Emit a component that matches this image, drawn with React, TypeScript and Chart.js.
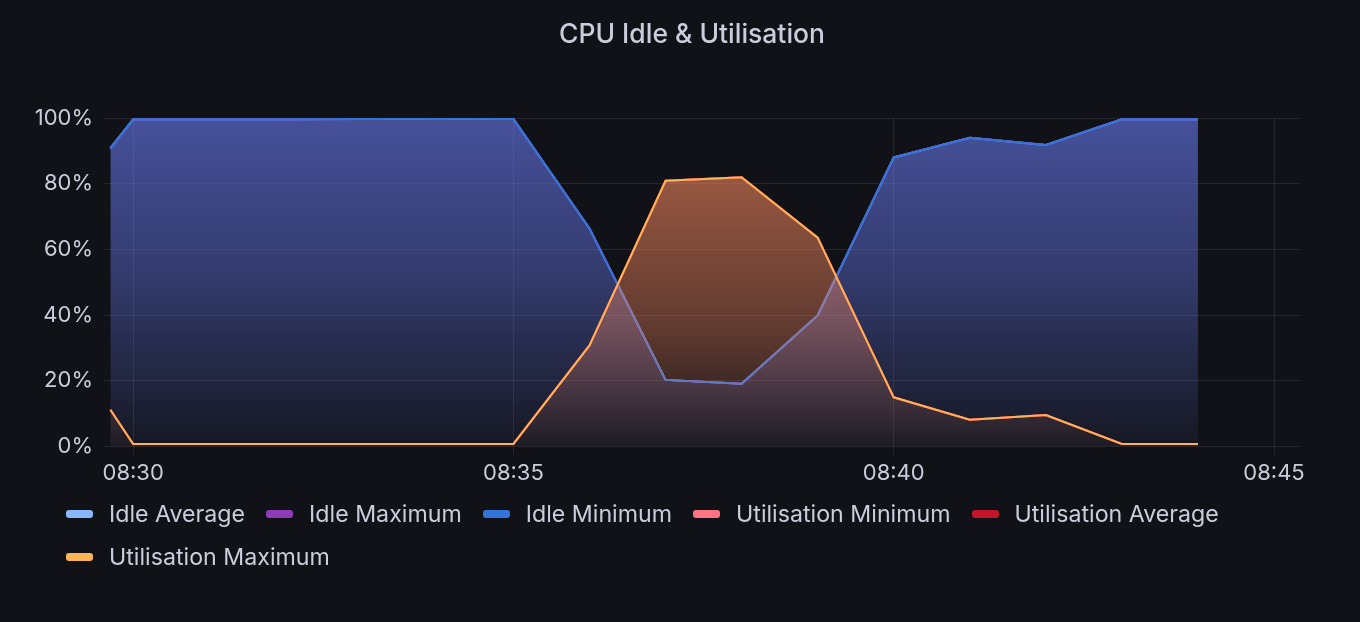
import React, { useEffect, useRef } from "react";
import { Chart, registerables } from "chart.js";

Chart.register(...registerables);

const chartTitle = "CPU Idle & Utilisation";

const times = [
  "08:29:42", "08:30:00", "08:31:00", "08:32:00", "08:33:00", "08:34:00",
  "08:35:00", "08:36:00", "08:37:00", "08:38:00", "08:39:00", "08:40:00",
  "08:41:00", "08:42:00", "08:43:00", "08:44:00",
];

const idleMinimum = [90.8, 99.6, 99.6, 99.6, 99.7, 99.9, 99.7, 66.4, 20.3, 19.1, 39.9, 88.0, 94.0, 91.8, 99.6, 99.6];
const idleAverage = [90.8, 99.6, 99.6, 99.6, 99.7, 99.9, 99.7, 66.4, 20.3, 19.1, 39.9, 88.0, 94.0, 91.8, 99.6, 99.6];
const idleMaximum = [90.8, 99.6, 99.6, 99.6, 99.7, 99.9, 99.7, 66.4, 20.3, 19.1, 39.9, 88.0, 94.0, 91.8, 99.6, 99.6];
const utilMaximum = [11.2, 0.8, 0.8, 0.8, 0.8, 0.8, 0.8, 30.8, 80.9, 82.0, 63.6, 15.0, 8.2, 9.6, 0.8, 0.8];
const utilAverage = [11.2, 0.8, 0.8, 0.8, 0.8, 0.8, 0.8, 30.8, 80.9, 82.0, 63.6, 15.0, 8.2, 9.6, 0.8, 0.8];
const utilMinimum = [11.2, 0.8, 0.8, 0.8, 0.8, 0.8, 0.8, 30.8, 80.9, 82.0, 63.6, 15.0, 8.2, 9.6, 0.8, 0.8];

const xTickLabels = ["08:30", "08:35", "08:40", "08:45"];
const yTickValues = [0, 20, 40, 60, 80, 100];
const xRangeStart = "08:29:37";
const xRangeEnd = "08:45:20.5";

const seriesNames = [
  "Idle Average",
  "Idle Maximum",
  "Idle Minimum",
  "Utilisation Minimum",
  "Utilisation Average",
  "Utilisation Maximum",
];
const seriesColors = ["#8AB8FF", "#8F3BB8", "#3274D9", "#FF7383", "#C4162A", "#FFB357"];

const toMinutes = (t: string) => {
  const [h, m, s] = t.split(":").map(Number);
  return h * 60 + m + (s || 0) / 60 - 480;
};

const BG = "#111217";
const TEXT = "#ccccdc";
const GRID = "rgba(204,204,220,0.11)";
const FONT = "Inter, 'Noto Sans', sans-serif";

function gradient(chart: any, rgb: string, stops: [number, number][]) {
  const { ctx, chartArea } = chart;
  if (!chartArea) return "transparent";
  const g = ctx.createLinearGradient(0, chartArea.top, 0, chartArea.bottom);
  stops.forEach(([p, a]) => g.addColorStop(p, `rgba(${rgb},${a})`));
  return g;
}

const panelTitle = {
  id: "panelTitle",
  afterDraw(chart: any) {
    const { ctx } = chart;
    ctx.save();
    ctx.font = `500 26.5px ${FONT}`;
    ctx.fillStyle = TEXT;
    ctx.textAlign = "center";
    ctx.textBaseline = "middle";
    ctx.fillText(chartTitle, 692, 35);
    ctx.restore();
  },
};

export default function App() {
  const canvasRef = useRef<HTMLCanvasElement | null>(null);

  useEffect(() => {
    document.body.style.margin = "0";
    document.body.style.background = BG;
    const xs = times.map(toMinutes);
    const series = [idleAverage, idleMaximum, idleMinimum, utilMinimum, utilAverage, utilMaximum];
    const datasets = series.map((vals, i) => {
      let fill: any = false;
      let bg: any = "transparent";
      if (i === 2) {
        fill = "origin";
        bg = (c: any) => gradient(c.chart, "109,128,251", [[0, 0.58], [0.5, 0.37], [1, 0.05]]);
      }
      if (i === 5) {
        fill = "origin";
        bg = (c: any) => gradient(c.chart, "255,140,98", [[0, 0.66], [0.22, 0.55], [0.65, 0.33], [1, 0.03]]);
      }
      return {
        label: seriesNames[i],
        data: vals.map((v, j) => ({ x: xs[j], y: v })),
        borderColor: seriesColors[i],
        backgroundColor: bg,
        borderWidth: 2,
        pointRadius: 0,
        tension: 0,
        fill,
        order: 6 - i,
      };
    });

    const chart = new Chart(canvasRef.current as HTMLCanvasElement, {
      type: "line",
      data: { datasets },
      plugins: [panelTitle],
      options: {
        animation: false,
        responsive: false,
        maintainAspectRatio: false,
        layout: { padding: { left: 24, right: 60, top: 118, bottom: 129 } },
        plugins: {
          legend: { display: false },
          tooltip: { enabled: false },
          title: { display: false },
        },
        scales: {
          x: {
            type: "linear",
            min: toMinutes(xRangeStart),
            max: toMinutes(xRangeEnd),
            border: { display: false },
            grid: { color: GRID, lineWidth: 1, drawTicks: true, tickLength: 8, tickColor: GRID },
            afterBuildTicks: (scale: any) => {
              scale.ticks = xTickLabels.map((l) => ({ value: toMinutes(l) }));
            },
            ticks: {
              color: TEXT,
              font: { family: FONT, size: 22 },
              padding: 6,
              maxRotation: 0,
              autoSkip: false,
              callback: (_v: any, i: number) => xTickLabels[i],
            },
          },
          y: {
            min: 0,
            max: 100,
            border: { display: false },
            grid: { color: GRID, lineWidth: 1, drawTicks: false },
            afterBuildTicks: (scale: any) => {
              scale.ticks = yTickValues.map((v) => ({ value: v }));
            },
            afterFit: (scale: any) => {
              scale.width = 80;
            },
            ticks: {
              color: TEXT,
              font: { family: FONT, size: 22 },
              padding: 11,
              callback: (v: any) => `${v}%`,
            },
          },
        },
      },
    });
    return () => chart.destroy();
  }, []);

  return (
    <div style={{ position: "relative", width: 1360, height: 622, background: BG, overflow: "hidden" }}>
      <canvas ref={canvasRef} width={1360} height={622} style={{ display: "block" }} />
      <div
        style={{
          position: "absolute",
          left: 66,
          top: 492,
          width: 1280,
          display: "flex",
          flexWrap: "wrap",
          fontFamily: FONT,
          fontSize: 23.2,
          color: TEXT,
        }}
      >
        {seriesNames.map((name, i) => (
          <div key={name} style={{ display: "flex", alignItems: "center", height: 43, marginRight: 21 }}>
            <span
              style={{
                display: "inline-block",
                width: 27,
                height: 8,
                borderRadius: 3,
                background: seriesColors[i],
                marginRight: 16,
              }}
            />
            <span>{name}</span>
          </div>
        ))}
      </div>
    </div>
  );
}
